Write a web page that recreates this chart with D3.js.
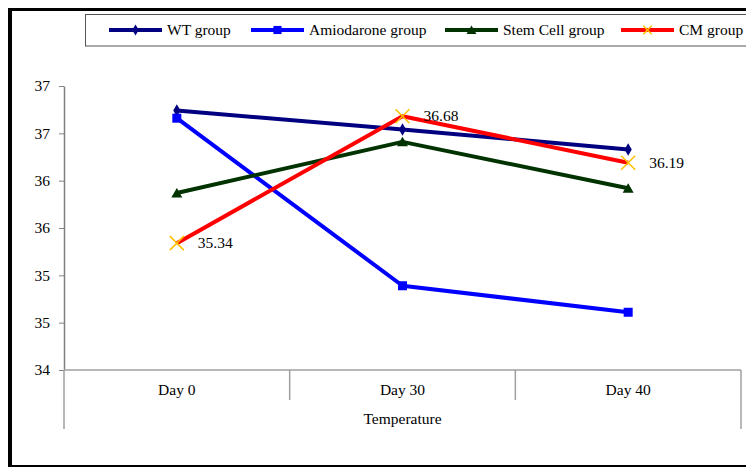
<!DOCTYPE html>
<html><head><meta charset="utf-8">
<script src="https://cdn.jsdelivr.net/npm/d3@7/dist/d3.min.js"></script>
<style>body{margin:0;background:#fff}svg{display:block}</style>
</head><body>
<script>
const categories = ["Day 0", "Day 30", "Day 40"];
const seriesNames = ["WT group", "Amiodarone group", "Stem Cell group", "CM group"];
const wtValues = [36.74, 36.54, 36.33];
const amioValues = [36.66, 34.89, 34.61];
const stemValues = [35.87, 36.41, 35.92];
const cmValues = [35.34, 36.68, 36.19];
const tickValues = [34, 34.5, 35, 35.5, 36, 36.5, 37];
const tickLabels = ["34", "35", "35", "36", "36", "37", "37"];
const cmLabels = ["35.34", "36.68", "36.19"];
const axisTitle = "Temperature";

const FONT = "'Liberation Serif', 'Times New Roman', Times, serif";
const FS = "15.5px";
const W = 746, H = 468;
const svg = d3.select("body").append("svg").attr("width", W).attr("height", H);

// outer frame
svg.append("line").attr("x1", 8).attr("x2", W).attr("y1", 9.5).attr("y2", 9.5).attr("stroke", "#000").attr("stroke-width", 3);
svg.append("line").attr("x1", 10).attr("x2", 10).attr("y1", 8).attr("y2", 467).attr("stroke", "#000").attr("stroke-width", 4);
svg.append("line").attr("x1", 8).attr("x2", W).attr("y1", 466).attr("y2", 466).attr("stroke", "#000").attr("stroke-width", 2);

const x = d3.scaleBand().domain(categories).range([64, 741]);
const y = d3.scaleLinear().domain([34, 37]).range([370, 86]);

// y axis
const yAxis = d3.axisLeft(y).tickValues(tickValues).tickFormat((d, i) => tickLabels[i]).tickSize(5).tickSizeOuter(0).tickPadding(9);
const gy = svg.append("g").attr("transform", "translate(64,0)").call(yAxis);
gy.attr("font-family", null).attr("font-size", null);
gy.select(".domain").attr("stroke", "#808080").attr("stroke-width", 1.5);
gy.selectAll(".tick line").attr("stroke", "#808080");
gy.selectAll("text").style("font-size", FS).attr("fill", "#000").style("font-family", FONT);

// x axis
const gx = svg.append("g");
gx.append("line").attr("x1", 64).attr("x2", 741).attr("y1", 370).attr("y2", 370).attr("stroke", "#a0a0a0").attr("stroke-width", 1.5);
const bounds = [64].concat(categories.map(c => x(c) + x.bandwidth()));
bounds.forEach((b, i) => {
  const isEnd = i === 0 || i === bounds.length - 1;
  gx.append("line").attr("x1", b).attr("x2", b).attr("y1", 370).attr("y2", isEnd ? 429 : 400)
    .attr("stroke", "#a0a0a0").attr("stroke-width", 1.5);
});
gx.selectAll(".cat").data(categories).enter().append("text")
  .attr("x", d => x(d) + x.bandwidth() / 2).attr("y", 395).attr("text-anchor", "middle")
  .style("font-size", FS).style("font-family", FONT).text(d => d);
gx.append("text").attr("x", (64 + 741) / 2).attr("y", 424).attr("text-anchor", "middle")
  .style("font-size", FS).style("font-family", FONT).text(axisTitle);

const series = [
  {name: seriesNames[0], values: wtValues, color: "#000080", marker: "diamond"},
  {name: seriesNames[1], values: amioValues, color: "#0000ff", marker: "square"},
  {name: seriesNames[2], values: stemValues, color: "#003300", marker: "triangle"},
  {name: seriesNames[3], values: cmValues, color: "#ff0000", marker: "x"}
];

function drawMarker(g, type, cx, cy, color, k) {
  k = k || 1;
  if (type === "diamond") {
    g.append("path").attr("d", d3.symbol(d3.symbolDiamond, 45 * k * k)()).attr("transform", `translate(${cx},${cy})`).attr("fill", color);
  } else if (type === "square") {
    const h = 4.5 * k;
    g.append("rect").attr("x", cx - h).attr("y", cy - h).attr("width", 2 * h).attr("height", 2 * h).attr("fill", color);
  } else if (type === "triangle") {
    g.append("path").attr("d", `M${cx},${cy - 5 * k}L${cx + 5.5 * k},${cy + 4.5 * k}L${cx - 5.5 * k},${cy + 4.5 * k}Z`).attr("fill", color);
  } else {
    const s = 7 * k;
    g.append("path").attr("d", `M${cx - s},${cy - s}L${cx + s},${cy + s}M${cx - s},${cy + s}L${cx + s},${cy - s}`)
      .attr("stroke", "#ffc000").attr("stroke-width", 1.5).attr("fill", "none");
  }
}

const line = d3.line().x((d, i) => x(categories[i]) + x.bandwidth() / 2).y(d => y(d));
const gl = svg.append("g");
series.forEach(s => {
  gl.append("path").datum(s.values).attr("d", line).attr("fill", "none").attr("stroke", s.color)
    .attr("stroke-width", 4).attr("stroke-linejoin", "round");
});
series.forEach(s => {
  s.values.forEach((v, i) => drawMarker(gl, s.marker, x(categories[i]) + x.bandwidth() / 2, y(v), s.color));
});

// data labels for CM group
cmValues.forEach((v, i) => {
  svg.append("text").attr("x", x(categories[i]) + x.bandwidth() / 2 + 21).attr("y", y(v) + 5)
    .style("font-size", FS).style("font-family", FONT).text(cmLabels[i]);
});

// legend
const lg = svg.append("g");
lg.append("rect").attr("x", 85.5).attr("y", 14.5).attr("width", 700).attr("height", 31.5)
  .attr("fill", "#fff").attr("stroke", "#555").attr("stroke-width", 1);
const legendX = [109, 251, 445, 621];
series.forEach((s, i) => {
  const lx = legendX[i], ly = 30;
  lg.append("line").attr("x1", lx).attr("x2", lx + 53).attr("y1", ly).attr("y2", ly).attr("stroke", s.color).attr("stroke-width", 4);
  drawMarker(lg, s.marker, lx + 26.5, ly, s.color, s.marker === "x" ? 0.6 : 0.9);
  lg.append("text").attr("x", lx + 58).attr("y", ly + 5).style("font-size", FS).style("font-family", FONT).text(s.name);
});
</script>
</body></html>
